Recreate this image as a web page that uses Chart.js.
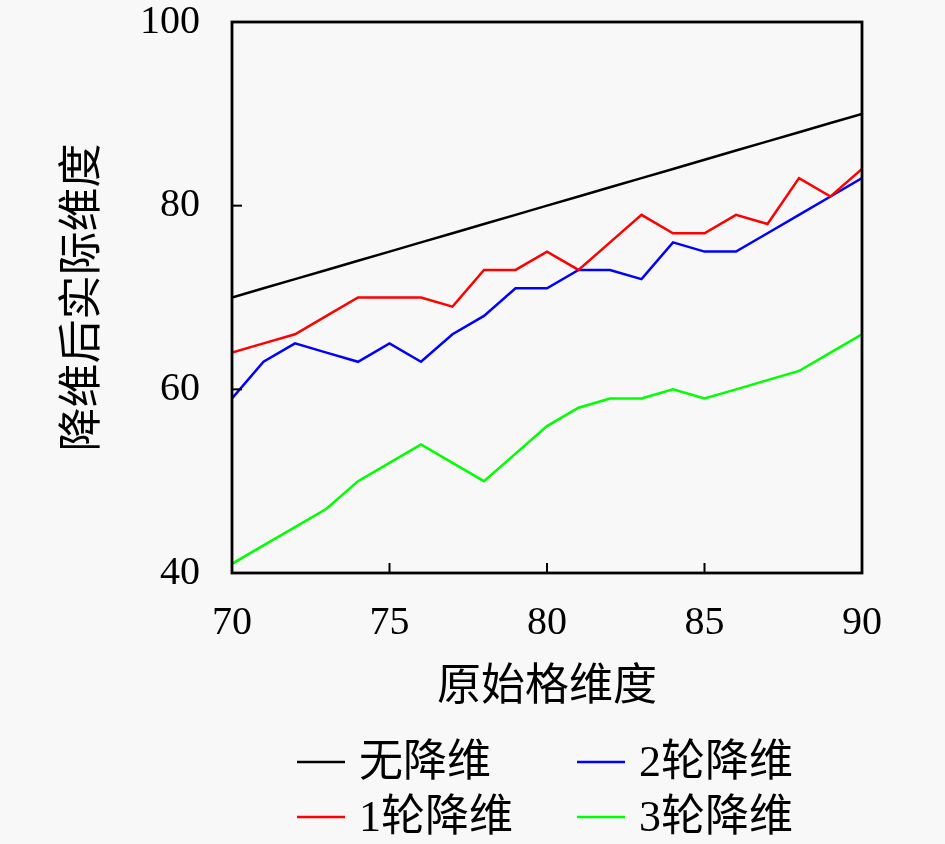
<!DOCTYPE html>
<html>
<head>
<meta charset="utf-8">
<script src="https://cdn.jsdelivr.net/npm/chart.js@4.4.0/dist/chart.umd.min.js"></script>
<style>
  html, body { margin: 0; padding: 0; background: #f8f8f8; }
  #wrap { width: 945px; height: 844px; }
</style>
</head>
<body>
<div id="wrap"><canvas id="chart"></canvas></div>
<script>
// 原始格维度
const dims = [70, 71, 72, 73, 74, 75, 76, 77, 78, 79, 80, 81, 82, 83, 84, 85, 86, 87, 88, 89, 90];
// 降维后实际维度
const noReduce = [70, 71, 72, 73, 74, 75, 76, 77, 78, 79, 80, 81, 82, 83, 84, 85, 86, 87, 88, 89, 90];
const round1 = [64, 65, 66, 68, 70, 70, 70, 69, 73, 73, 75, 73, 76, 79, 77, 77, 79, 78, 83, 81, 84];
const round2 = [59, 63, 65, 64, 63, 65, 63, 66, 68, 71, 71, 73, 73, 72, 76, 75, 75, 77, 79, 81, 83];
const round3 = [41, 43, 45, 47, 50, 52, 54, 52, 50, 53, 56, 58, 59, 59, 60, 59, 60, 61, 62, 64, 66];

const seriesNames = ['无降维', '1轮降维', '2轮降维', '3轮降维'];
const seriesColors = ['#000000', '#ff0000', '#0000ff', '#00ff00'];
const xTicks = [70, 75, 80, 85, 90];
const yTicks = [40, 60, 80, 100];

const FONT = '"Liberation Serif", "Noto Sans CJK SC", serif';
Chart.defaults.font.family = FONT;
Chart.defaults.color = '#000';

function toPoints(vals) {
    return vals.map((v, i) => ({ x: dims[i], y: v }));
}

// 边框、内向刻度和图例
const framePlugin = {
    id: 'frame',
    afterDatasetsDraw(chart) {
        const { ctx, chartArea: a, scales: { x, y } } = chart;
        ctx.save();
        ctx.strokeStyle = '#000';
        ctx.lineWidth = 2;
        xTicks.forEach(v => {
            const px = x.getPixelForValue(v);
            ctx.beginPath(); ctx.moveTo(px, a.bottom); ctx.lineTo(px, a.bottom - 10); ctx.stroke();
        });
        yTicks.forEach(v => {
            const py = y.getPixelForValue(v);
            ctx.beginPath(); ctx.moveTo(a.left, py); ctx.lineTo(a.left + 10, py); ctx.stroke();
        });
        ctx.lineWidth = 2.8;
        ctx.strokeRect(a.left, a.top, a.right - a.left, a.bottom - a.top);
        ctx.restore();
    },
    afterDraw(chart) {
        const { ctx } = chart;
        const cols = [297, 577];
        const rows = [762, 817];
        ctx.save();
        ctx.font = '44px ' + FONT;
        ctx.textBaseline = 'middle';
        ctx.fillStyle = '#000';
        chart.data.datasets.forEach((ds, i) => {
            const cx = cols[Math.floor(i / 2)];
            const cy = rows[i % 2];
            ctx.strokeStyle = ds.borderColor;
            ctx.lineWidth = 2.5;
            ctx.beginPath(); ctx.moveTo(cx, cy); ctx.lineTo(cx + 48, cy); ctx.stroke();
            ctx.fillText(ds.label, cx + 62, cy + 2);
        });
        ctx.restore();
    }
};

new Chart(document.getElementById('chart'), {
    type: 'line',
    data: {
        datasets: [noReduce, round1, round2, round3].map((vals, i) => ({
            label: seriesNames[i],
            data: toPoints(vals),
            borderColor: seriesColors[i],
            backgroundColor: seriesColors[i],
            borderWidth: 2.5,
            pointRadius: 0,
            tension: 0,
            fill: false
        }))
    },
    options: {
        responsive: true,
        maintainAspectRatio: false,
        animation: false,
        layout: { padding: { top: 22, right: 83, left: 0, bottom: 129 } },
        plugins: {
            legend: { display: false },
            tooltip: { enabled: false }
        },
        scales: {
            x: {
                type: 'linear',
                min: 70,
                max: 90,
                afterBuildTicks: s => { s.ticks = xTicks.map(v => ({ value: v })); },
                ticks: { font: { size: 40 }, padding: 26, color: '#000' },
                grid: { display: false, drawTicks: false },
                border: { display: false },
                title: { display: true, text: '原始格维度', font: { size: 44 }, padding: { top: 0, bottom: 0 }, color: '#000' },
                afterFit: s => { s.height = 142; }
            },
            y: {
                min: 40,
                max: 100,
                afterBuildTicks: s => { s.ticks = yTicks.map(v => ({ value: v })); },
                ticks: { font: { size: 40 }, padding: 32, color: '#000' },
                grid: { display: false, drawTicks: false },
                border: { display: false },
                title: { display: true, text: '降维后实际维度', font: { size: 44 }, padding: { top: 58, bottom: 0 }, color: '#000' },
                afterFit: s => { s.width = 232; s.paddingTop = 0; s.paddingBottom = 0; }
            }
        }
    },
    plugins: [framePlugin]
});
</script>
</body>
</html>
